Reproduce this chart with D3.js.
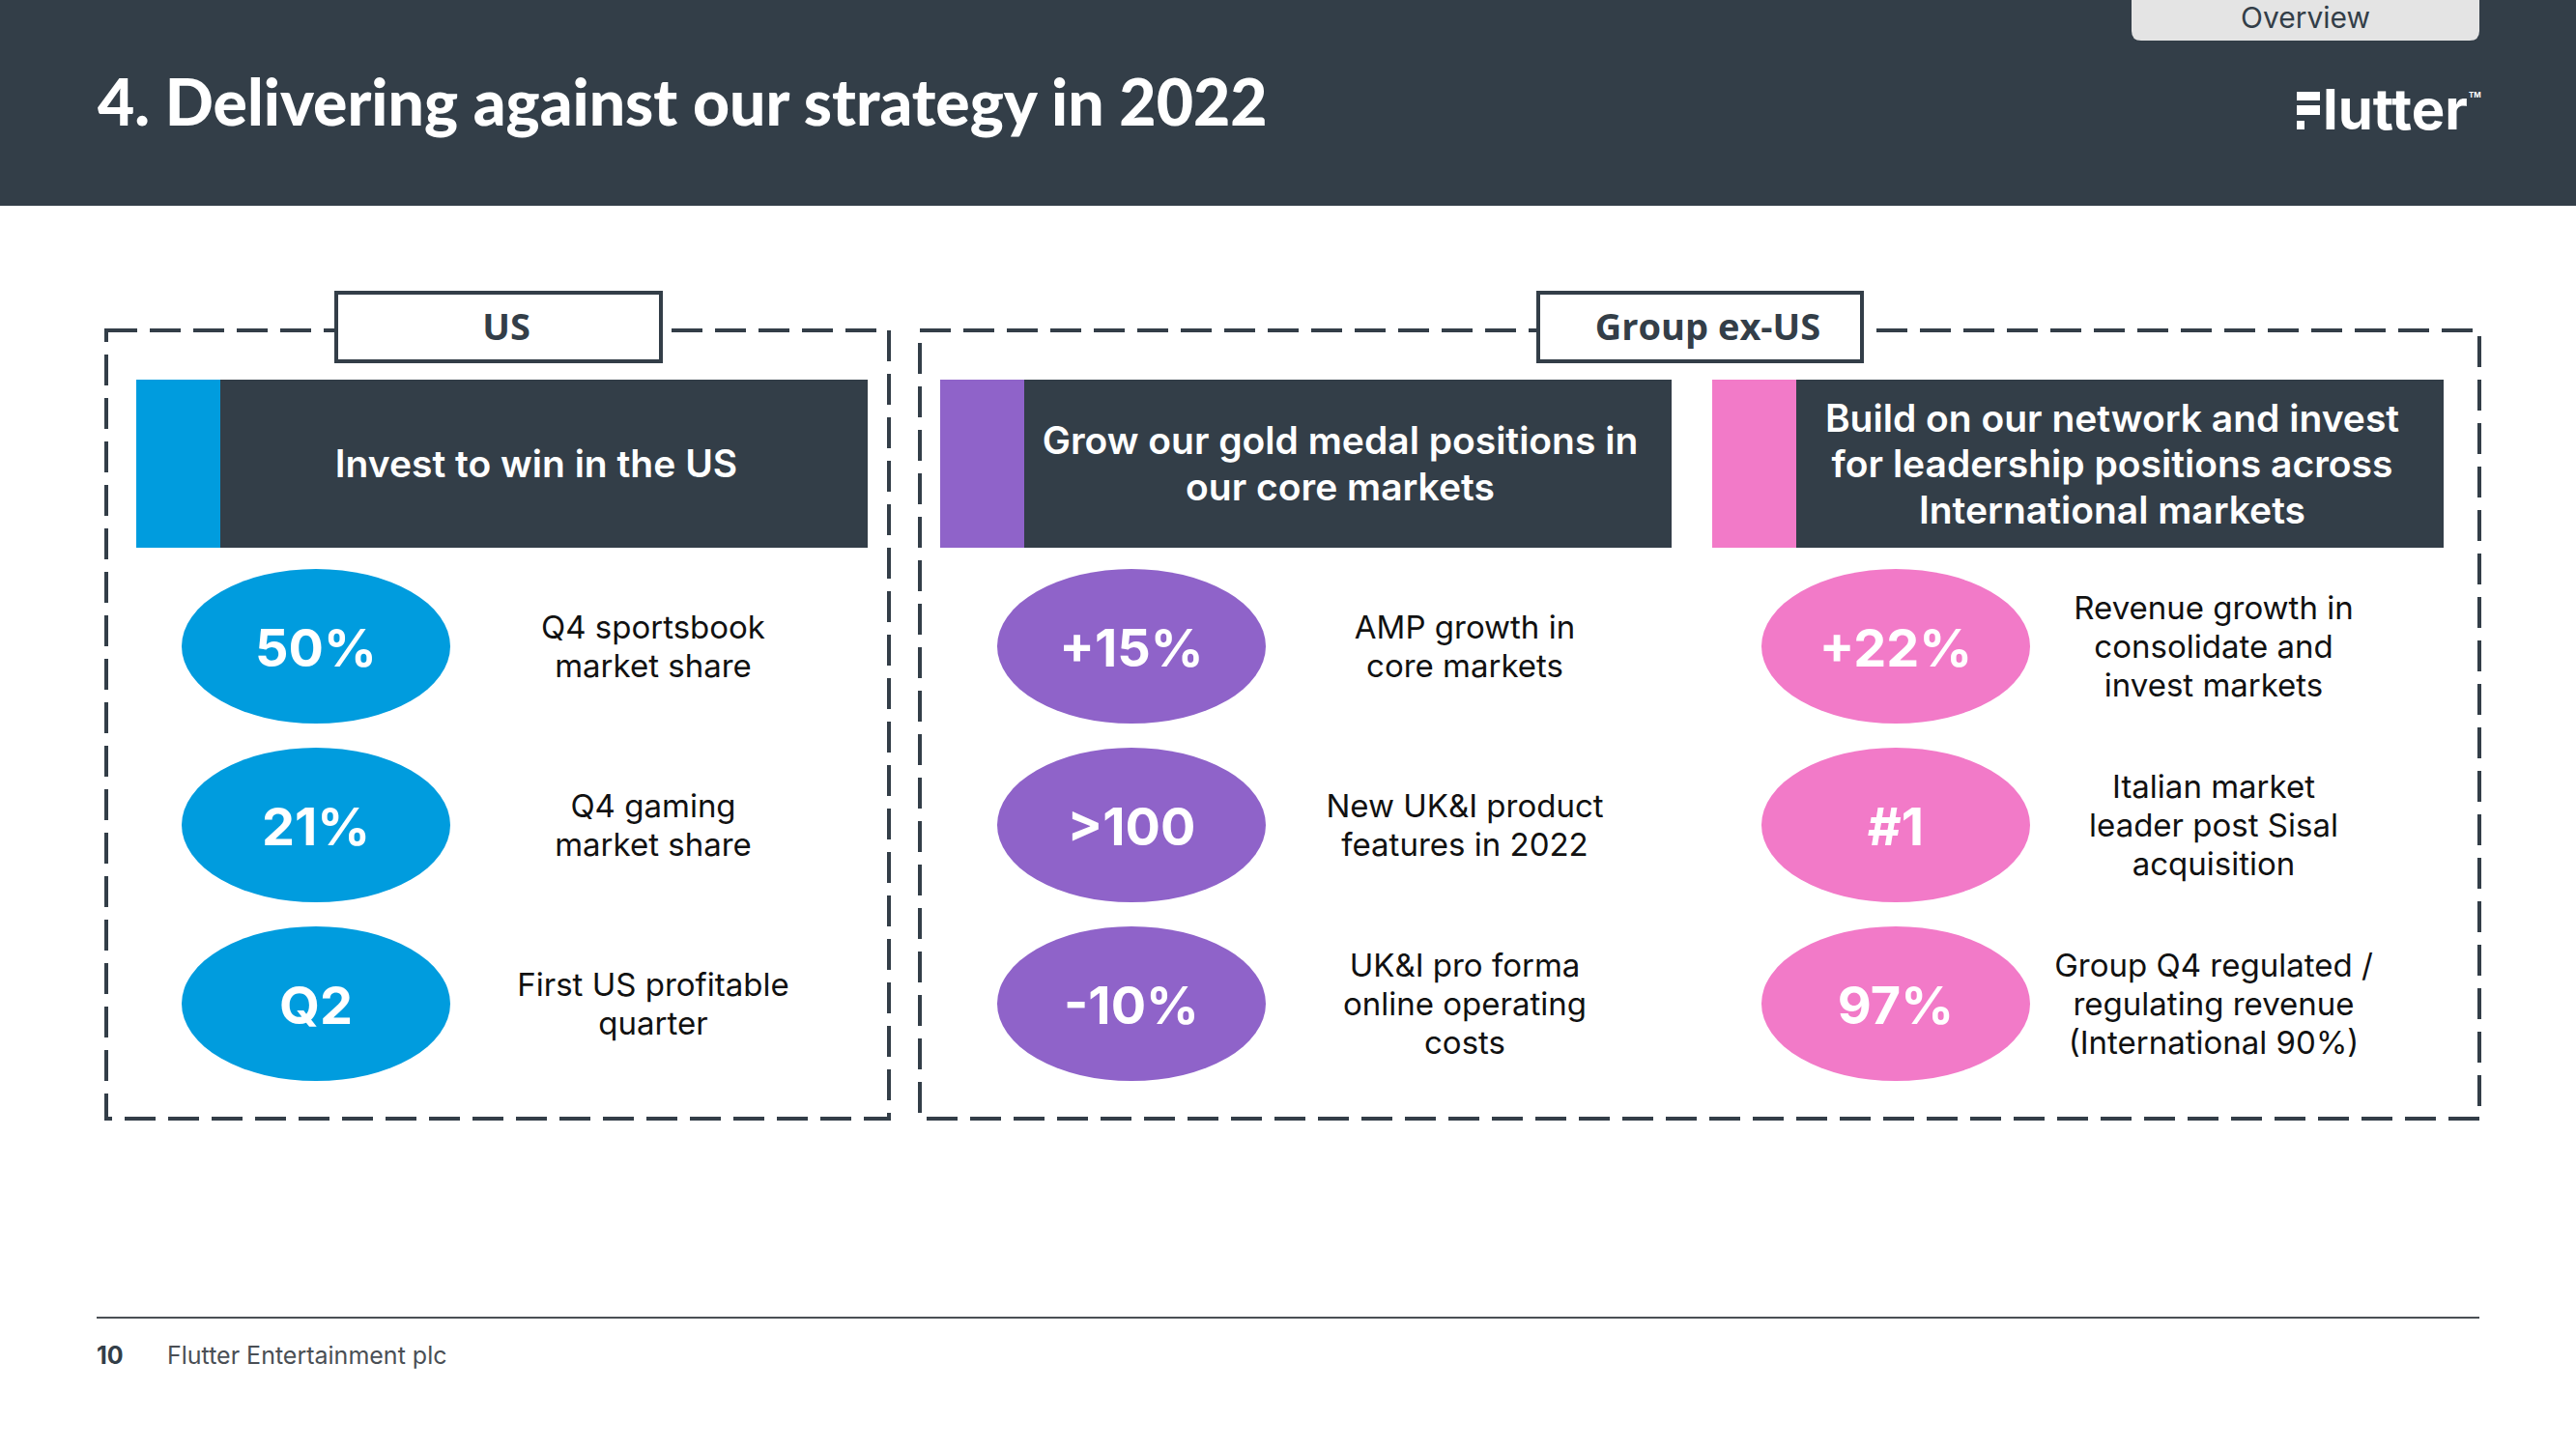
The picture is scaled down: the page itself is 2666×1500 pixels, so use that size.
<!DOCTYPE html>
<html><head><meta charset="utf-8">
<script src="https://cdn.jsdelivr.net/npm/d3@7"></script>
<style>html,body{margin:0;padding:0;background:#fff;} svg{display:block}</style>
</head><body>
<svg id="c" width="2666" height="1500"></svg>
<script>
// ---------- content ----------
const slideTitle = "4. Delivering against our strategy in 2022";
const sectionTag = "Overview";
const brandName = "lutter";
const groupLabels = ["US", "Group ex-US"];
const pillarIds = ["us", "core", "intl"];
const pillarTitles = [
  ["Invest to win in the US"],
  ["Grow our gold medal positions in", "our core markets"],
  ["Build on our network and invest", "for leadership positions across", "International markets"]
];
const usValues = ["50%", "21%", "Q2"];
const coreValues = ["+15%", ">100", "-10%"];
const intlValues = ["+22%", "#1", "97%"];
const usLabels = [["Q4 sportsbook", "market share"], ["Q4 gaming", "market share"], ["First US profitable", "quarter"]];
const coreLabels = [["AMP growth in", "core markets"], ["New UK&I product", "features in 2022"], ["UK&I pro forma", "online operating", "costs"]];
const intlLabels = [["Revenue growth in", "consolidate and", "invest markets"], ["Italian market", "leader post Sisal", "acquisition"], ["Group Q4 regulated /", "regulating revenue", "(International 90%)"]];
const pageNumber = "10";
const footerText = "Flutter Entertainment plc";

// ---------- layout ----------
const W = 2666, H = 1500;
const DARK = "#333e48";
const svg = d3.select("#c");
const pillarColor = d3.scaleOrdinal().domain(pillarIds).range(["#009cde", "#8f63c9", "#f27ac8"]);
const bannerX = d3.scaleOrdinal().domain(pillarIds).range([141, 973, 1772]);
const bannerW = 757, bannerTop = 393, bannerH = 174, accentW = 87;
const rowY = d3.scalePoint().domain([0, 1, 2]).range([669, 1039]);
const ellipseDx = d3.scaleOrdinal().domain(pillarIds).range([186, 198, 190]);
const labelDx = d3.scaleOrdinal().domain(pillarIds).range([535, 543, 519]);
const groupX = d3.scaleOrdinal().domain(groupLabels).range([[110, 920], [952, 2566]]);
const groupTagX = d3.scaleOrdinal().domain(groupLabels).range([[348, 684], [1592, 1927]]);

const pillars = pillarIds.map((id, i) => ({
  id, title: pillarTitles[i],
  values: [usValues, coreValues, intlValues][i],
  labels: [usLabels, coreLabels, intlLabels][i]
}));

// ---------- header ----------
svg.append("rect").attr("x", 0).attr("y", 0).attr("width", W).attr("height", 213).attr("fill", DARK);
const title = svg.append("text").attr("x", 101).attr("y", 130)
  .attr("font-family", "Lato, sans-serif").attr("font-weight", 900)
  .attr("font-size", 62).attr("fill", "#fff").text(slideTitle);
const tw = title.node().getComputedTextLength();
title.attr("font-size", 62 * 1211 / tw);

// Overview tab
svg.append("path")
  .attr("d", `M2206,0 H2566 V32 Q2566,42 2556,42 H2216 Q2206,42 2206,32 Z`)
  .attr("fill", "#e4e4e4");
svg.append("text").attr("x", 2386).attr("y", 29).attr("text-anchor", "middle")
  .attr("font-family", "Inter, sans-serif").attr("font-size", 30).attr("fill", DARK).text(sectionTag);

// Logo
const logo = svg.append("g").attr("fill", "#fff");
logo.append("rect").attr("x", 2377).attr("y", 95).attr("width", 24).attr("height", 9);
logo.append("rect").attr("x", 2377).attr("y", 109).attr("width", 24).attr("height", 10);
logo.append("rect").attr("x", 2377).attr("y", 125).attr("width", 8).attr("height", 9);
const brand = logo.append("text").attr("x", 2404).attr("y", 134)
  .attr("font-family", "Inter, sans-serif").attr("font-weight", 700).attr("font-size", 52).text(brandName);
const bw = brand.node().getComputedTextLength();
brand.attr("font-size", 52 * 150 / bw);
logo.append("text").attr("x", 2555).attr("y", 101).attr("font-family", "Inter, sans-serif")
  .attr("font-weight", 700).attr("font-size", 8).text("TM");

// ---------- group boxes ----------
const groups = svg.selectAll("g.group").data(groupLabels).join("g").attr("class", "group");
groups.append("rect")
  .attr("x", d => groupX(d)[0]).attr("y", 342)
  .attr("width", d => groupX(d)[1] - groupX(d)[0]).attr("height", 1158 - 342)
  .attr("fill", "none").attr("stroke", DARK).attr("stroke-width", 4)
  .attr("stroke-dasharray", "32 13");
groups.append("rect")
  .attr("x", d => groupTagX(d)[0]).attr("y", 303)
  .attr("width", d => groupTagX(d)[1] - groupTagX(d)[0]).attr("height", 71)
  .attr("fill", "#fff").attr("stroke", DARK).attr("stroke-width", 4);
groups.append("text")
  .attr("x", d => (groupTagX(d)[0] + groupTagX(d)[1]) / 2 + 8).attr("y", 352)
  .attr("text-anchor", "middle").attr("font-family", "'Open Sans', sans-serif")
  .attr("font-weight", 700).attr("font-size", 38).attr("fill", DARK).text(d => d);

// ---------- pillars ----------
const pg = svg.selectAll("g.pillar").data(pillars).join("g").attr("class", "pillar");
pg.append("rect").attr("x", d => bannerX(d.id)).attr("y", bannerTop)
  .attr("width", bannerW).attr("height", bannerH).attr("fill", DARK);
pg.append("rect").attr("x", d => bannerX(d.id)).attr("y", bannerTop)
  .attr("width", accentW).attr("height", bannerH).attr("fill", d => pillarColor(d.id));
pg.each(function (d) {
  const g = d3.select(this);
  const cx = bannerX(d.id) + accentW + (bannerW - accentW) / 2 - 8;
  const cy = bannerTop + bannerH / 2;
  const lh = 47.5;
  const n = d.title.length;
  g.append("text").attr("text-anchor", "middle")
    .attr("font-family", "Inter, sans-serif").attr("font-weight", 600)
    .attr("font-size", 39).attr("fill", "#fff")
    .selectAll("tspan").data(d.title).join("tspan")
    .attr("x", cx).attr("y", (t, i) => cy - (n - 1) / 2 * lh + 14 + i * lh).text(t => t);

  const rows = d.values.map((v, i) => ({ v, lab: d.labels[i], i }));
  const r = g.selectAll("g.kpi").data(rows).join("g").attr("class", "kpi");
  r.append("ellipse").attr("cx", bannerX(d.id) + ellipseDx(d.id)).attr("cy", k => rowY(k.i))
    .attr("rx", 139).attr("ry", 80).attr("fill", pillarColor(d.id));
  r.append("text").attr("x", bannerX(d.id) + ellipseDx(d.id)).attr("y", k => rowY(k.i) + 21)
    .attr("text-anchor", "middle").attr("font-family", "Inter, sans-serif")
    .attr("font-weight", 700).attr("font-size", 54).attr("fill", "#fff").text(k => k.v);
  r.append("text").attr("text-anchor", "middle").attr("font-family", "Inter, sans-serif")
    .attr("font-size", 33).attr("fill", "#111")
    .each(function (k) {
      const m = k.lab.length, lh2 = 40;
      d3.select(this).selectAll("tspan").data(k.lab).join("tspan")
        .attr("x", bannerX(d.id) + labelDx(d.id))
        .attr("y", (t, j) => rowY(k.i) - (m - 1) / 2 * lh2 + 12 + j * lh2)
        .text(t => t);
    });
});

// ---------- footer ----------
svg.append("line").attr("x1", 100).attr("x2", 2566).attr("y1", 1364).attr("y2", 1364)
  .attr("stroke", "#4a4f55").attr("stroke-width", 2);
svg.append("text").attr("x", 100).attr("y", 1412).attr("font-family", "Inter, sans-serif")
  .attr("font-weight", 700).attr("font-size", 25).attr("fill", DARK).text(pageNumber);
svg.append("text").attr("x", 173).attr("y", 1412).attr("font-family", "Inter, sans-serif")
  .attr("font-size", 25).attr("fill", "#4a4f55").text(footerText);
</script>
</body></html>
